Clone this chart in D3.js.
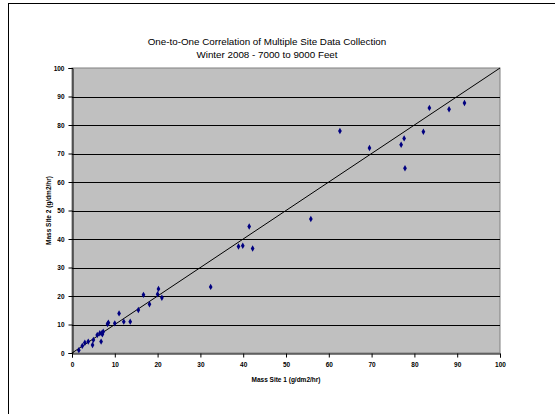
<!DOCTYPE html>
<html>
<head>
<meta charset="utf-8">
<script src="https://cdn.jsdelivr.net/npm/d3@7"></script>
<style>
  body { margin: 0; background: #fff; }
  svg { display: block; font-family: Arial, "Liberation Sans", sans-serif; }
</style>
</head>
<body>
<script>
// readings, site 1 vs site 2
const site1 = [1.6, 2.4, 3.0, 3.8, 4.8, 5.0, 5.9, 6.5, 6.8, 7.0, 7.3, 7.1, 8.3, 8.5, 10.0, 11.0, 12.1, 13.6, 15.5, 16.7, 18.1, 20.2, 20.0, 21.0,
               32.4, 38.9, 39.9, 41.4, 42.2, 55.8, 62.6, 69.5, 76.9, 77.6, 77.8, 82.1, 83.5, 88.1, 91.7];
const site2 = [1.0, 2.5, 3.6, 4.0, 2.8, 4.6, 6.3, 6.9, 4.0, 7.0, 7.5, 6.6, 10.2, 10.6, 10.4, 13.9, 11.0, 11.0, 15.1, 20.4, 17.1, 22.5, 20.6, 19.4,
               23.2, 37.4, 37.6, 44.4, 36.7, 47.0, 77.9, 71.9, 73.1, 75.3, 64.8, 77.6, 86.0, 85.5, 87.7];
const ticks = [0, 10, 20, 30, 40, 50, 60, 70, 80, 90, 100];
const titleLines = ["One-to-One Correlation of Multiple Site Data Collection", "Winter 2008 - 7000 to 9000 Feet"];
const xLabel = "Mass Site 1 (g/dm2/hr)";
const yLabel = "Mass Site 2 (g/dm2/hr)";

const drawViz = () => {
	const width = 555;
	const height = 414;
	const margin = {top: 68, bottom: 61, left: 72, right: 55};

	const svg = d3.select('body')
	  .append('svg')
	  .attr('width', width)
	  .attr('height', height);

	// outer chart frame
	svg.append('rect')
		.attr('x', 8.5).attr('y', 3.5)
		.attr('width', 600).attr('height', 500)
		.attr('fill', 'none').attr('stroke', '#000').attr('stroke-width', 1);

	const x = d3.scaleLinear().domain([0, 100]).range([margin.left, width - margin.right]);
	const y = d3.scaleLinear().domain([0, 100]).range([height - margin.bottom, margin.top]);

	svg.append('rect')
		.attr('x', x(0)).attr('y', y(100))
		.attr('width', x(100) - x(0)).attr('height', y(0) - y(100))
		.attr('fill', '#c0c0c0').attr('stroke', '#808080');

	// gridlines
	svg.append('g').selectAll('line')
		.data(ticks.slice(1, -1))
		.join('line')
		.attr('x1', x(0)).attr('x2', x(100))
		.attr('y1', d => Math.round(y(d)) + 0.5).attr('y2', d => Math.round(y(d)) + 0.5)
		.attr('stroke', '#000');

	const xAxis = svg.append('g')
		.attr('transform', `translate(0, ${Math.round(y(0)) + 0.5})`)
		.call(d3.axisBottom(x).tickValues(ticks).tickSize(4).tickPadding(5));
	const yAxis = svg.append('g')
		.attr('transform', `translate(${Math.round(x(0)) + 0.5}, 0)`)
		.call(d3.axisLeft(y).tickValues(ticks).tickSize(4).tickPadding(4));

	[xAxis, yAxis].forEach(a => {
		a.select('.domain').attr('stroke', '#000');
		a.selectAll('text').attr('font-size', 6.5).attr('font-weight', 'bold').attr('fill', '#000');
	});
	yAxis.selectAll('.tick line').attr('x2', -4);

	// one-to-one line
	svg.append('line')
		.attr('x1', x(0)).attr('y1', y(0))
		.attr('x2', x(100)).attr('y2', y(100))
		.attr('stroke', '#000').attr('stroke-width', 1);

	const points = site1.map((v, i) => ({a: v, b: site2[i]}));
	svg.append('g').selectAll('path')
		.data(points)
		.join('path')
		.attr('d', d3.symbol(d3.symbolDiamond, 12))
		.attr('transform', d => `translate(${x(d.a)}, ${y(d.b)})`)
		.attr('fill', '#000080');

	svg.append('text')
		.attr('x', 267).attr('y', 45)
		.attr('text-anchor', 'middle')
		.attr('font-size', 9.8)
		.selectAll('tspan')
		.data(titleLines)
		.join('tspan')
		.attr('x', 267)
		.attr('dy', (d, i) => i ? 12.5 : 0)
		.text(d => d);

	svg.append('text')
		.attr('x', 286).attr('y', 382)
		.attr('text-anchor', 'middle')
		.attr('font-size', 6.5).attr('font-weight', 'bold')
		.text(xLabel);

	svg.append('text')
		.attr('transform', `translate(51, ${y(50)}) rotate(-90)`)
		.attr('text-anchor', 'middle')
		.attr('font-size', 6.5).attr('font-weight', 'bold')
		.text(yLabel);
}

drawViz();
</script>
</body>
</html>
